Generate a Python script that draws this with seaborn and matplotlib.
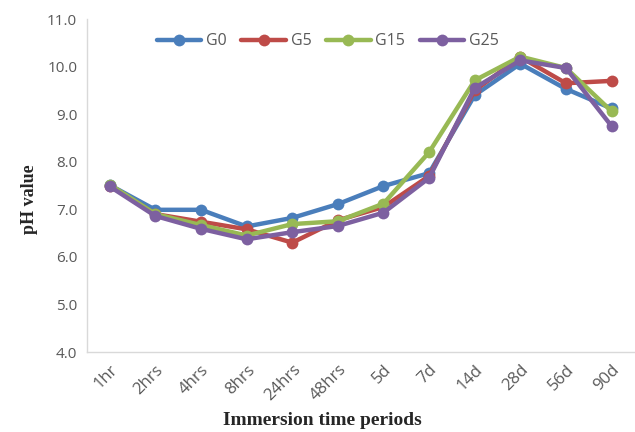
import matplotlib
matplotlib.use("Agg")
import matplotlib.pyplot as plt
import seaborn as sns
import pandas as pd

periods = ["1hr", "2hrs", "4hrs", "8hrs", "24hrs", "48hrs", "5d", "7d", "14d", "28d", "56d", "90d"]
g0 = [7.51, 6.99, 6.99, 6.64, 6.82, 7.11, 7.49, 7.76, 9.40, 10.06, 9.53, 9.12]
g5 = [7.50, 6.90, 6.74, 6.58, 6.30, 6.77, 7.05, 7.70, 9.50, 10.20, 9.65, 9.70]
g15 = [7.52, 6.90, 6.67, 6.45, 6.69, 6.75, 7.12, 8.20, 9.71, 10.21, 9.97, 9.06]
g25 = [7.48, 6.86, 6.59, 6.37, 6.52, 6.65, 6.93, 7.66, 9.55, 10.13, 9.97, 8.75]
series = {"G0": g0, "G5": g5, "G15": g15, "G25": g25}
colors = ["#4A7EBB", "#BE4B48", "#98B954", "#7D60A0"]
yticks = [4.0, 5.0, 6.0, 7.0, 8.0, 9.0, 10.0, 11.0]

rows = []
for name, vals in series.items():
    for p, v in zip(periods, vals):
        rows.append({"period": p, "pH": v, "group": name})
df = pd.DataFrame(rows)

sns.set_style("white")
plt.rcParams['font.family'] = ['Open Sans', 'DejaVu Sans']

fig = plt.figure(figsize=(6.35, 4.32), dpi=100)
ax = fig.add_axes([0.137, 0.185, 0.862, 0.771])
sns.lineplot(data=df, x="period", y="pH", hue="group", palette=colors,
             marker="o", markersize=8.5, markeredgewidth=0, linewidth=3.2,
             sort=False, ax=ax)

ax.set_xlim(-0.5, len(periods) - 0.5)
ax.set_ylim(4.0, 11.0)
ax.set_yticks(yticks)
ax.set_yticklabels([f"{t:.1f}" for t in yticks], fontsize=11, color="#595959")
ax.set_xticks(range(len(periods)))
ax.set_xticklabels(periods, rotation=45, fontsize=12, color="#595959",
                   ha="right", rotation_mode="anchor")
ax.tick_params(axis="both", length=0, pad=7)

for s in ["top", "right"]:
    ax.spines[s].set_visible(False)
for s in ["left", "bottom"]:
    ax.spines[s].set_color("#D9D9D9")
    ax.spines[s].set_linewidth(1)

ax.set_xlabel("Immersion time periods", fontfamily="Liberation Serif",
              fontweight="bold", fontsize=14, va="center")
ax.xaxis.set_label_coords(0.43, -0.205)
ax.set_ylabel("pH value", fontfamily="Liberation Serif",
              fontweight="bold", fontsize=13)
ax.yaxis.set_label_coords(-0.09, 0.46)

leg = ax.legend(loc="upper center", bbox_to_anchor=(0.44, 1.0), ncol=4, frameon=False,
                fontsize=11.5, handlelength=2.8, columnspacing=0.9, handletextpad=0.3)
for t in leg.get_texts():
    t.set_color("#595959")

fig.savefig("out.png", dpi=100)
